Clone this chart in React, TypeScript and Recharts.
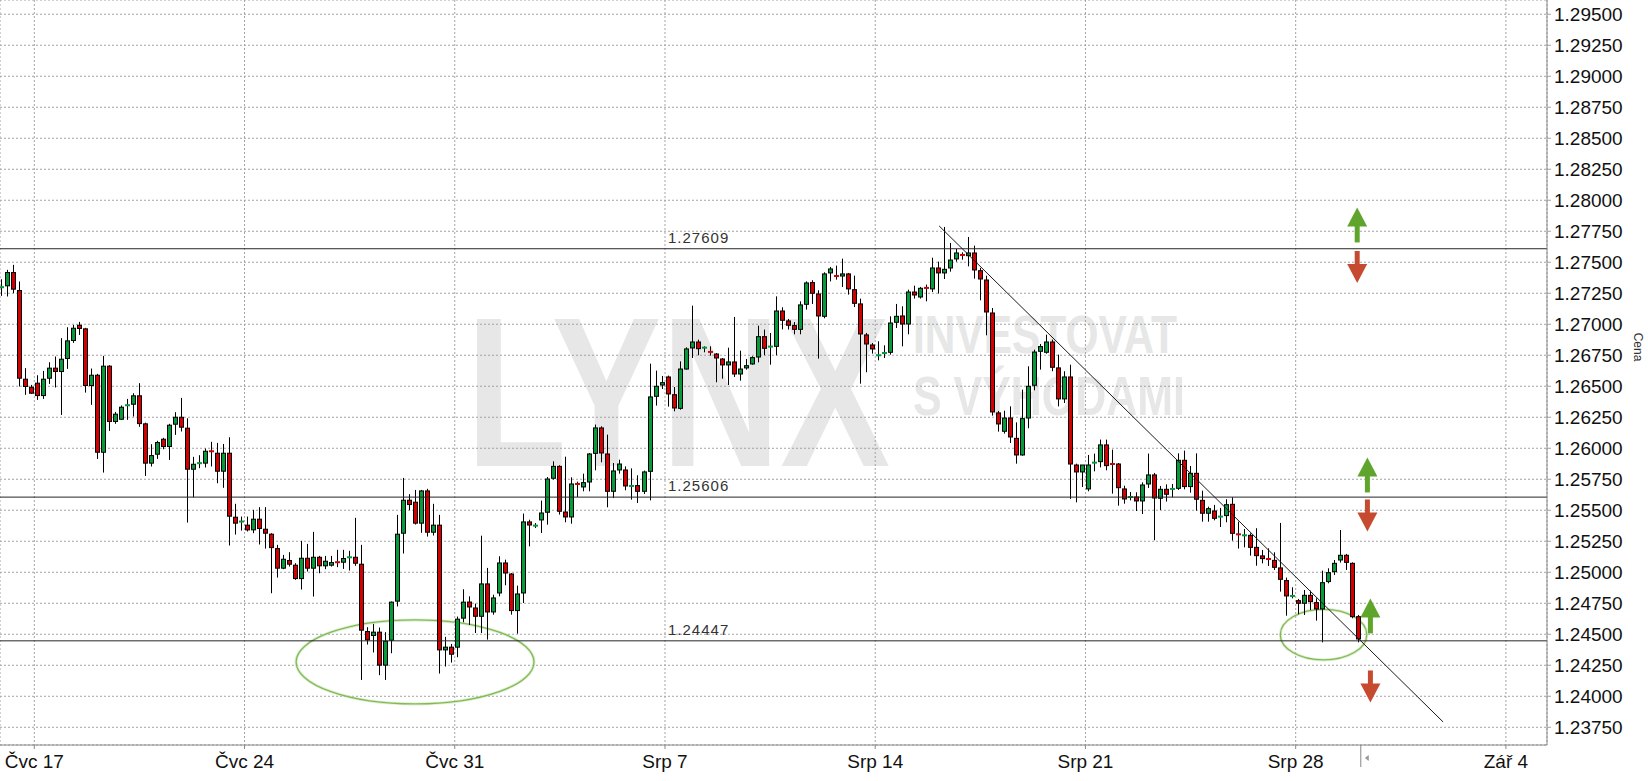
import React from "react"
import {
  ComposedChart,
  Bar,
  XAxis,
  YAxis,
  CartesianGrid,
  ReferenceLine,
  ReferenceArea,
  ReferenceDot,
} from "recharts"

// OHLC, one entry per candle
const opens = [
  1.27283, 1.2731, 1.27417, 1.27272, 1.26557, 1.26492, 1.26525, 1.26425, 1.26565, 1.26646,
  1.26619, 1.26724, 1.26869, 1.26992, 1.26963, 1.26506, 1.26589, 1.25968, 1.26662, 1.26216,
  1.26234, 1.26336, 1.26355, 1.26423, 1.26197, 1.2588, 1.25952, 1.26073, 1.26014, 1.26194,
  1.2625, 1.26162, 1.25831, 1.25871, 1.2588, 1.25976, 1.2596, 1.25815, 1.2596, 1.25444,
  1.25396, 1.2538, 1.25342, 1.25428, 1.25347, 1.25307, 1.25191, 1.25033, 1.25095, 1.25057,
  1.24949, 1.25113, 1.25033, 1.25121, 1.25052, 1.25057, 1.25081, 1.25081, 1.25111, 1.25121,
  1.25065, 1.24522, 1.2449, 1.24517, 1.24251, 1.24452, 1.24767, 1.25315, 1.25581, 1.25565,
  1.25396, 1.25656, 1.25323, 1.2538, 1.24374, 1.24396, 1.24396, 1.2463, 1.2476, 1.24712,
  1.24645, 1.24906, 1.2468, 1.24833, 1.25075, 1.24986, 1.24691, 1.24833, 1.25406, 1.25363,
  1.25422, 1.25484, 1.25758, 1.25854, 1.25486, 1.25446, 1.25712, 1.25688, 1.25728, 1.25959,
  1.26164, 1.25954, 1.25653, 1.25825, 1.25825, 1.25688, 1.25699, 1.25653, 1.25814, 1.26419,
  1.2651, 1.26575, 1.26432, 1.26322, 1.26639, 1.26809, 1.26857, 1.26803, 1.26777, 1.2676,
  1.2672, 1.26672, 1.26696, 1.26599, 1.26648, 1.2668, 1.26736, 1.269, 1.26809, 1.26822,
  1.27107, 1.27027, 1.26989, 1.26959, 1.27161, 1.27336, 1.27244, 1.27064, 1.27414, 1.27389,
  1.27389, 1.27406, 1.27279, 1.27164, 1.26914, 1.26833, 1.26742, 1.26752, 1.26774, 1.27016,
  1.27067, 1.27002, 1.2726, 1.2722, 1.27293, 1.27285, 1.27454, 1.27414, 1.27454, 1.27527,
  1.27559, 1.27553, 1.27575, 1.27432, 1.27357, 1.27091, 1.26285, 1.26137, 1.26244, 1.2608,
  1.25946, 1.26244, 1.26508, 1.26782, 1.26774, 1.26857, 1.26648, 1.26398, 1.26575, 1.25865,
  1.25809, 1.25672, 1.25873, 1.25892, 1.26027, 1.25873, 1.25873, 1.25672, 1.25599, 1.25607,
  1.25575, 1.25712, 1.25785, 1.25597, 1.25669, 1.25661, 1.25677, 1.25903, 1.25691, 1.25798,
  1.2558, 1.25476, 1.25494, 1.25435, 1.25457, 1.25548, 1.25306, 1.2529, 1.25298, 1.25201,
  1.25132, 1.25107, 1.25096, 1.25035, 1.24933, 1.24798, 1.24771, 1.2475, 1.24814, 1.24755,
  1.24704, 1.24925, 1.25005, 1.25099, 1.25137, 1.25072, 1.24642,
]
const highs = [
  1.27363, 1.27439, 1.27479, 1.27345, 1.26646, 1.26511, 1.26589, 1.26624, 1.26694, 1.2674,
  1.26888, 1.26976, 1.26995, 1.27019, 1.26971, 1.26643, 1.266, 1.26745, 1.2667, 1.26293,
  1.26345, 1.26398, 1.26444, 1.26525, 1.26207, 1.26033, 1.2606, 1.26084, 1.26197, 1.26291,
  1.26406, 1.26242, 1.25931, 1.25944, 1.25998, 1.26052, 1.26043, 1.26035, 1.26089, 1.25552,
  1.25449, 1.25449, 1.25503, 1.25525, 1.25525, 1.25315, 1.25221, 1.2514, 1.25162, 1.25073,
  1.25253, 1.25229, 1.25326, 1.25132, 1.25132, 1.25132, 1.25181, 1.25181, 1.25173, 1.25439,
  1.25221, 1.24557, 1.24584, 1.24554, 1.24517, 1.24764, 1.25463, 1.25761, 1.2563, 1.25664,
  1.25664, 1.25673, 1.25552, 1.25463, 1.24479, 1.24422, 1.24643, 1.24863, 1.24806, 1.24747,
  1.25295, 1.25035, 1.24819, 1.25129, 1.25102, 1.24994, 1.24892, 1.25473, 1.25424, 1.25397,
  1.25578, 1.25768, 1.25895, 1.25863, 1.25932, 1.25766, 1.25731, 1.25795, 1.25962, 1.26191,
  1.26177, 1.2611, 1.25881, 1.25908, 1.25854, 1.25838, 1.25782, 1.2582, 1.26682, 1.26626,
  1.26583, 1.26586, 1.26494, 1.26701, 1.26814, 1.2715, 1.26876, 1.26822, 1.26822, 1.26768,
  1.26728, 1.26811, 1.27059, 1.26787, 1.2672, 1.26742, 1.26989, 1.26957, 1.2693, 1.27225,
  1.27137, 1.27043, 1.27018, 1.27185, 1.27346, 1.27355, 1.27274, 1.27419, 1.27462, 1.27473,
  1.27529, 1.27414, 1.27392, 1.27207, 1.2693, 1.26849, 1.26863, 1.2683, 1.27064, 1.27164,
  1.27145, 1.27279, 1.27311, 1.27301, 1.2732, 1.27537, 1.27505, 1.27785, 1.27656, 1.27607,
  1.2758, 1.27704, 1.27634, 1.27454, 1.27392, 1.27131, 1.26301, 1.26303, 1.26338, 1.26209,
  1.26473, 1.26661, 1.26795, 1.26841, 1.26916, 1.26876, 1.26755, 1.26621, 1.26674, 1.25876,
  1.25865, 1.25946, 1.25957, 1.2607, 1.2607, 1.25989, 1.25881, 1.25698, 1.25647, 1.25645,
  1.25725, 1.25957, 1.25801, 1.25696, 1.25709, 1.25712, 1.25959, 1.25981, 1.25857, 1.25959,
  1.25658, 1.25529, 1.25543, 1.25519, 1.25589, 1.25605, 1.25408, 1.25349, 1.25314, 1.25355,
  1.2518, 1.25193, 1.25161, 1.25398, 1.24957, 1.24879, 1.24785, 1.24857, 1.24852, 1.2479,
  1.25013, 1.25032, 1.25099, 1.25341, 1.25148, 1.2508, 1.24656,
]
const lows = [
  1.27229, 1.27224, 1.2725, 1.26498, 1.26431, 1.26439, 1.2639, 1.26398, 1.26519, 1.2649,
  1.26269, 1.2664, 1.2685, 1.26914, 1.26449, 1.2635, 1.25914, 1.25804, 1.2614, 1.26197,
  1.26229, 1.26229, 1.26256, 1.26173, 1.25777, 1.25853, 1.25914, 1.25992, 1.25906, 1.26108,
  1.26135, 1.25401, 1.25605, 1.25839, 1.25845, 1.25853, 1.25718, 1.25681, 1.25216, 1.25304,
  1.25336, 1.25329, 1.25315, 1.25224, 1.25191, 1.24831, 1.24957, 1.25025, 1.25046, 1.24939,
  1.24861, 1.25006, 1.24804, 1.24992, 1.25025, 1.25046, 1.25041, 1.25027, 1.25014, 1.25052,
  1.24132, 1.24417, 1.24353, 1.2417, 1.24132, 1.24347, 1.24724, 1.25151, 1.255, 1.25385,
  1.25318, 1.25288, 1.25296, 1.24183, 1.2424, 1.24272, 1.24315, 1.24597, 1.24575, 1.2451,
  1.2451, 1.24457, 1.24658, 1.24806, 1.24895, 1.24658, 1.24505, 1.24752, 1.25209, 1.25357,
  1.25317, 1.25384, 1.25747, 1.25465, 1.25403, 1.25392, 1.25607, 1.25653, 1.25653, 1.25822,
  1.25887, 1.25524, 1.25599, 1.25795, 1.25661, 1.25586, 1.25559, 1.25631, 1.2558, 1.26344,
  1.26478, 1.26336, 1.26298, 1.26311, 1.26634, 1.26728, 1.2675, 1.26774, 1.26747, 1.26532,
  1.26561, 1.2651, 1.26575, 1.26545, 1.26634, 1.26674, 1.26693, 1.2675, 1.26674, 1.2675,
  1.26959, 1.26957, 1.26919, 1.26919, 1.27118, 1.27164, 1.26723, 1.27048, 1.27346, 1.2736,
  1.27301, 1.27239, 1.27139, 1.26521, 1.26613, 1.26763, 1.26709, 1.26728, 1.26755, 1.2697,
  1.26822, 1.26919, 1.27207, 1.27207, 1.27185, 1.2726, 1.27247, 1.27365, 1.27424, 1.27505,
  1.27521, 1.27467, 1.27368, 1.27193, 1.26911, 1.26263, 1.26134, 1.26118, 1.26043, 1.25876,
  1.2594, 1.26161, 1.26467, 1.26634, 1.26763, 1.26621, 1.26338, 1.26365, 1.25591, 1.25564,
  1.25688, 1.25653, 1.25814, 1.25846, 1.25822, 1.25634, 1.25537, 1.25553, 1.2558, 1.25494,
  1.2547, 1.2568, 1.25258, 1.25502, 1.2557, 1.25605, 1.25664, 1.25669, 1.25642, 1.25497,
  1.25408, 1.25408, 1.25419, 1.25365, 1.25403, 1.25255, 1.25191, 1.25201, 1.25134, 1.25053,
  1.25072, 1.25051, 1.25019, 1.24844, 1.2465, 1.2479, 1.24661, 1.24656, 1.24696, 1.2461,
  1.24435, 1.24911, 1.24978, 1.25078, 1.25019, 1.24629, 1.24435,
]
const closes = [
  1.27299, 1.27417, 1.27283, 1.26565, 1.26498, 1.26444, 1.26425, 1.26557, 1.26646, 1.26619,
  1.26718, 1.26866, 1.26968, 1.26966, 1.26506, 1.26589, 1.25968, 1.26662, 1.26216, 1.26275,
  1.26331, 1.26347, 1.26423, 1.26199, 1.2588, 1.25941, 1.26046, 1.26014, 1.26186, 1.2625,
  1.2617, 1.25831, 1.25871, 1.2588, 1.25976, 1.25966, 1.25815, 1.2596, 1.25452, 1.25396,
  1.25409, 1.25342, 1.25428, 1.25353, 1.25315, 1.25199, 1.25033, 1.25105, 1.25065, 1.24949,
  1.25113, 1.25033, 1.25121, 1.25052, 1.25089, 1.25078, 1.2507, 1.25111, 1.25121, 1.25073,
  1.24533, 1.24455, 1.24517, 1.24251, 1.24444, 1.24759, 1.25307, 1.25581, 1.25546, 1.25396,
  1.25656, 1.25323, 1.2538, 1.24374, 1.24396, 1.24339, 1.24622, 1.24759, 1.2472, 1.24645,
  1.24906, 1.2468, 1.24793, 1.25075, 1.24994, 1.24691, 1.24825, 1.25406, 1.25381, 1.25376,
  1.25478, 1.25752, 1.25854, 1.25492, 1.25446, 1.25712, 1.25701, 1.25723, 1.25954, 1.26164,
  1.25962, 1.25653, 1.25817, 1.25873, 1.25696, 1.25696, 1.25653, 1.25809, 1.26414, 1.265,
  1.26529, 1.26438, 1.26325, 1.26639, 1.26801, 1.26857, 1.26803, 1.26811, 1.26766, 1.26728,
  1.26672, 1.26696, 1.26599, 1.26639, 1.26666, 1.26731, 1.269, 1.26806, 1.2682, 1.27107,
  1.27032, 1.26992, 1.26959, 1.27156, 1.27333, 1.2725, 1.27067, 1.27406, 1.27446, 1.27379,
  1.27406, 1.27285, 1.27169, 1.26922, 1.26841, 1.26801, 1.2675, 1.26768, 1.2701, 1.27064,
  1.27002, 1.2726, 1.27236, 1.2729, 1.27282, 1.27454, 1.27414, 1.27443, 1.27518, 1.27575,
  1.27548, 1.27575, 1.27438, 1.27365, 1.27099, 1.26293, 1.26196, 1.26244, 1.26091, 1.25946,
  1.26239, 1.265, 1.26776, 1.2682, 1.26857, 1.26653, 1.26398, 1.26575, 1.25873, 1.25809,
  1.25865, 1.25865, 1.25884, 1.26027, 1.2586, 1.25857, 1.25682, 1.25591, 1.25607, 1.25575,
  1.25704, 1.25785, 1.25599, 1.25669, 1.25629, 1.25672, 1.25903, 1.25691, 1.25798, 1.25589,
  1.25476, 1.25513, 1.25435, 1.25449, 1.25545, 1.25314, 1.25293, 1.25298, 1.25201, 1.25134,
  1.2511, 1.25096, 1.2504, 1.24943, 1.24809, 1.24809, 1.2475, 1.24814, 1.24763, 1.24704,
  1.24916, 1.24997, 1.25072, 1.25137, 1.2508, 1.24642, 1.24462,
]

// week separators (candle index units) and their labels
const weekTicks = [5.66, 40.66, 75.66, 110.66, 145.66, 180.66, 215.66, 250.66]
const weekLabels = ["Čvc 17", "Čvc 24", "Čvc 31", "Srp 7", "Srp 14", "Srp 21", "Srp 28", "Zář 4"]

const priceTicks = [
  1.2375, 1.24, 1.2425, 1.245, 1.2475, 1.25, 1.2525, 1.255, 1.2575, 1.26, 1.2625, 1.265,
  1.2675, 1.27, 1.2725, 1.275, 1.2775, 1.28, 1.2825, 1.285, 1.2875, 1.29, 1.2925, 1.295,
]

// drawn annotations
const levels = [1.27609, 1.25606, 1.24447]
const trendLine = [
  { x: 156.3, y: 1.27793 },
  { x: 240.2, y: 1.23793 },
]
const ellipses = [
  { x1: 49.25, x2: 88.85, y1: 1.23938, y2: 1.24616 },
  { x1: 213.1, x2: 227.5, y1: 1.24293, y2: 1.24701 },
]
const arrows = [
  { x: 225.9, y: 1.27801, dir: "up" },
  { x: 225.9, y: 1.27462, dir: "down" },
  { x: 227.6, y: 1.25785, dir: "up" },
  { x: 227.6, y: 1.25458, dir: "down" },
  { x: 228.1, y: 1.24648, dir: "up" },
  { x: 228.1, y: 1.24079, dir: "down" },
]
const lastCandleMark = 226.5

const data = opens.map((o, i) => ({
  i,
  open: o,
  high: highs[i],
  low: lows[i],
  close: closes[i],
}))

const Y_MIN = 1.23607
const Y_MAX = 1.29615

const Candle = (props: any) => {
  const { x, y, width, height, payload } = props
  if (x == null || y == null) return null
  const { open, close, high, low } = payload
  const top = Math.min(y, y + height)
  const span = Math.abs(height)
  const k = span / (high - low)
  const cx = Math.round(x + width / 2) + 0.5
  const yO = top + (high - open) * k
  const yC = top + (high - close) * k
  const up = close >= open
  const color = up ? "#069a3a" : "#d20000"
  const bTop = Math.min(yO, yC)
  const bH = Math.abs(yO - yC)
  return (
    <g>
      <line x1={cx} x2={cx} y1={top} y2={top + span} stroke="#000" strokeWidth={1} />
      {bH < 2 ? (
        <rect x={cx - 2.5} y={bTop - 1} width={5} height={2} fill={color} />
      ) : (
        <rect x={cx - 2} y={bTop} width={4} height={bH} fill={color} stroke="#000" strokeWidth={1} />
      )}
    </g>
  )
}

const Arrow = ({ cx, cy, dir }: any) => {
  if (dir === "up") {
    const c = "#5fa52b"
    return (
      <g>
        <polygon points={`${cx},${cy - 17.5} ${cx - 10},${cy + 1.5} ${cx + 10},${cy + 1.5}`} fill={c} />
        <rect x={cx - 2.5} y={cy + 1} width={5} height={16.5} fill={c} />
      </g>
    )
  }
  const c = "#c64a30"
  return (
    <g>
      <rect x={cx - 2.5} y={cy - 16} width={5} height={13.5} fill={c} />
      <polygon points={`${cx - 10},${cy - 3} ${cx + 10},${cy - 3} ${cx},${cy + 16}`} fill={c} />
    </g>
  )
}

const Ellipse = (p: any) => (
  <g>
    <ellipse
      cx={p.x + p.width / 2}
      cy={p.y + p.height / 2}
      rx={p.width / 2}
      ry={p.height / 2}
      fill="none"
      stroke="#b9dca0"
      strokeWidth={3}
      opacity={0.5}
    />
    <ellipse
      cx={p.x + p.width / 2}
      cy={p.y + p.height / 2}
      rx={p.width / 2}
      ry={p.height / 2}
      fill="none"
      stroke="#82bb55"
      strokeWidth={1.3}
    />
  </g>
)

const LastMark = ({ cx, cy }: any) => (
  <g>
    <line x1={cx} x2={cx} y1={cy} y2={cy + 22} stroke="#888" strokeWidth={1} />
    <polygon points={`${cx + 4},${cy + 13} ${cx + 8},${cy + 10} ${cx + 8},${cy + 16}`} fill="#999" />
  </g>
)

export default function App() {
  return (
    <div style={{ position: "relative", width: 1648, height: 781, background: "#fff" }}>
      <style>{"body{margin:0}"}</style>
      {/* watermark + axis name, behind the chart */}
      <svg width={1648} height={781} style={{ position: "absolute", left: 0, top: 0 }}>
        <g fill="#e6e7e6" fontFamily="Liberation Sans, Arial, sans-serif" fontWeight="bold">
          <text x={466} y={466} fontSize={214} textLength={424} lengthAdjust="spacingAndGlyphs">
            LYNX
          </text>
          <text x={913} y={353} fontSize={53} textLength={264} lengthAdjust="spacingAndGlyphs">
            INVESTOVAT
          </text>
          <text x={913} y={415} fontSize={55} textLength={272} lengthAdjust="spacingAndGlyphs">
            S VÝHODAMI
          </text>
        </g>
        <text
          x={1634}
          y={347}
          fontSize={12}
          fill="#333"
          fontFamily="Arial, sans-serif"
          textAnchor="middle"
          transform="rotate(90 1634 347)"
        >
          Cena
        </text>
      </svg>
      <ComposedChart width={1648} height={781} data={data} margin={{ top: 0, right: 0, left: 0, bottom: 0 }}>
        <CartesianGrid stroke="#a3a3a3" strokeDasharray="2 2" />
        <XAxis
          dataKey="i"
          type="number"
          domain={[-0.05, 257.5]}
          allowDataOverflow
          ticks={weekTicks}
          interval={0}
          tickFormatter={(v: number) => weekLabels[weekTicks.findIndex((t) => Math.abs(t - v) < 0.01)] ?? ""}
          height={36}
          tickSize={4}
          tickMargin={6}
          axisLine={{ stroke: "#8a8a8a" }}
          tickLine={{ stroke: "#8a8a8a" }}
          tick={{ fill: "#111", fontSize: 19, fontFamily: "Arial, sans-serif" }}
        />
        <YAxis
          orientation="right"
          domain={[Y_MIN, Y_MAX]}
          allowDataOverflow
          ticks={priceTicks}
          interval={0}
          width={101}
          tickSize={4}
          tickMargin={3}
          tickFormatter={(v: number) => v.toFixed(5)}
          axisLine={{ stroke: "#8a8a8a" }}
          tickLine={{ stroke: "#a3a3a3" }}
          tick={{ fill: "#111", fontSize: 19, fontFamily: "Arial, sans-serif" }}
        />
        {levels.map((lv) => (
          <ReferenceLine
            key={lv}
            y={lv}
            stroke="#262626"
            strokeWidth={1}
            label={(p: any) => (
              <text
                x={(p.viewBox?.x ?? 0) + 668}
                y={(p.viewBox?.y ?? 0) - 6}
                fontSize={15}
                letterSpacing={1}
                fill="#333"
                fontFamily="Arial, sans-serif"
              >
                {lv.toFixed(5)}
              </text>
            )}
          />
        ))}
        <Bar
          dataKey={(d: any) => [d.low, d.high]}
          barSize={5}
          shape={(p: any) => <Candle {...p} />}
          isAnimationActive={false}
        />
        <ReferenceLine segment={trendLine} stroke="#1a1a1a" strokeWidth={1} ifOverflow="visible" />
        {ellipses.map((e, k) => (
          <ReferenceArea
            key={k}
            x1={e.x1}
            x2={e.x2}
            y1={e.y1}
            y2={e.y2}
            ifOverflow="visible"
            shape={(p: any) => <Ellipse {...p} />}
          />
        ))}
        {arrows.map((a, k) => (
          <ReferenceDot
            key={k}
            x={a.x}
            y={a.y}
            r={0}
            ifOverflow="visible"
            shape={(p: any) => <Arrow cx={p.cx} cy={p.cy} dir={a.dir} />}
          />
        ))}
        <ReferenceDot
          x={lastCandleMark}
          y={Y_MIN}
          r={0}
          ifOverflow="visible"
          shape={(p: any) => <LastMark cx={p.cx} cy={p.cy} />}
        />
      </ComposedChart>
    </div>
  )
}
